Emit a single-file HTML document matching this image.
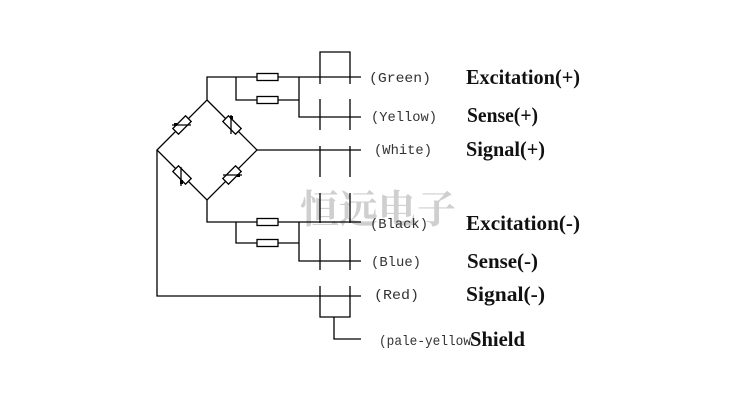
<!DOCTYPE html>
<html><head><meta charset="utf-8"><style>
html,body{margin:0;padding:0;background:#fff;}
svg{display:block;}
.c{font-family:"Liberation Mono",monospace;font-size:14px;fill:#333;}
.r{font-family:"Liberation Serif",serif;font-size:21px;font-weight:bold;fill:#111;}
</style></head><body>
<svg width="753" height="419" viewBox="0 0 753 419" xmlns="http://www.w3.org/2000/svg">
<rect width="753" height="419" fill="#fff"/>
<text x="300" y="223" font-family="'Noto Serif CJK SC',serif" font-weight="bold" font-size="39" fill="#cfcfcf" textLength="156" lengthAdjust="spacingAndGlyphs">恒远电子</text>
<g stroke="#000" stroke-width="1.3" fill="none">
<polygon points="207,100 257,150 207,200 157,150" fill="none"/>
<polyline points="207,100 207,77 361,77"/>
<polyline points="236,77 236,100 299,100"/>
<polyline points="299,77 299,117 361,117"/>
<rect x="257" y="73.5" width="21" height="7" fill="#fff"/>
<rect x="257" y="96.5" width="21" height="7" fill="#fff"/>
<line x1="257" y1="150" x2="361" y2="150"/>
<polyline points="207,200 207,222 361,222"/>
<polyline points="236,222 236,243 299,243"/>
<polyline points="299,222 299,261 361,261"/>
<rect x="257" y="218.5" width="21" height="7" fill="#fff"/>
<rect x="257" y="239.5" width="21" height="7" fill="#fff"/>
<polyline points="157,150 157,296 361,296"/>
<polyline points="320,84 320,52 350,52 350,84"/>
<line x1="320" y1="99" x2="320" y2="130"/><line x1="350" y1="99" x2="350" y2="130"/>
<line x1="320" y1="146" x2="320" y2="177"/><line x1="350" y1="146" x2="350" y2="177"/>
<line x1="320" y1="193" x2="320" y2="223"/><line x1="350" y1="193" x2="350" y2="223"/>
<line x1="320" y1="239" x2="320" y2="270"/><line x1="350" y1="239" x2="350" y2="270"/>
<polyline points="320,286 320,317 350,317 350,286"/>
<polyline points="334,317 334,339 361,339"/>
<rect x="173" y="121" width="18" height="8" transform="rotate(-45 182 125)" fill="#fff"/>
<rect x="223" y="121" width="18" height="8" transform="rotate(45 232 125)" fill="#fff"/>
<rect x="173" y="171" width="18" height="8" transform="rotate(45 182 175)" fill="#fff"/>
<rect x="223" y="171" width="18" height="8" transform="rotate(-45 232 175)" fill="#fff"/>
<line x1="172" y1="125" x2="191" y2="125"/>
<line x1="231" y1="115" x2="231" y2="134"/>
<line x1="181" y1="167" x2="181" y2="186"/>
<line x1="223" y1="175" x2="242" y2="175"/>
</g>
<g fill="#000"><rect x="174" y="123" width="3" height="3"/><rect x="230" y="116" width="3" height="3"/><rect x="180" y="180" width="3" height="4"/><rect x="237" y="174" width="3" height="3"/></g>
<g class="c">
<text x="369" y="82" textLength="62" lengthAdjust="spacingAndGlyphs">(Green)</text>
<text x="371" y="121" textLength="66" lengthAdjust="spacingAndGlyphs">(Yellow)</text>
<text x="374" y="154" textLength="58" lengthAdjust="spacingAndGlyphs">(White)</text>
<text x="370" y="228" textLength="58" lengthAdjust="spacingAndGlyphs">(Black)</text>
<text x="371" y="266" textLength="50" lengthAdjust="spacingAndGlyphs">(Blue)</text>
<text x="374" y="299" textLength="45" lengthAdjust="spacingAndGlyphs">(Red)</text>
<text x="379" y="345" textLength="92" lengthAdjust="spacingAndGlyphs">(pale-yellow</text>
</g>
<g class="r">
<text x="466" y="84" textLength="114" lengthAdjust="spacingAndGlyphs">Excitation(+)</text>
<text x="467" y="122" textLength="71" lengthAdjust="spacingAndGlyphs">Sense(+)</text>
<text x="466" y="156" textLength="79" lengthAdjust="spacingAndGlyphs">Signal(+)</text>
<text x="466" y="230" textLength="114" lengthAdjust="spacingAndGlyphs">Excitation(-)</text>
<text x="467" y="268" textLength="71" lengthAdjust="spacingAndGlyphs">Sense(-)</text>
<text x="466" y="301" textLength="79" lengthAdjust="spacingAndGlyphs">Signal(-)</text>
<text x="470" y="346" textLength="55" lengthAdjust="spacingAndGlyphs">Shield</text>
</g>
</svg>
</body></html>
